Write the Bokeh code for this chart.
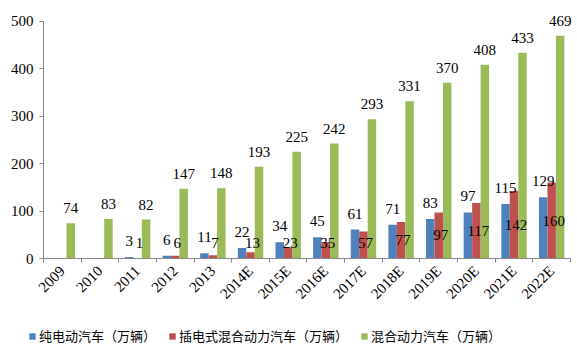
import math
import numpy as np
from bokeh.plotting import figure
from bokeh.models import FixedTicker, Range1d, Legend, LegendItem
from bokeh.core.properties import value
from bokeh.embed import file_html
from bokeh.resources import INLINE

years = ["2009", "2010", "2011", "2012", "2013", "2014E", "2015E", "2016E",
         "2017E", "2018E", "2019E", "2020E", "2021E", "2022E"]
bev = [0, 0, 3, 6, 11, 22, 34, 45, 61, 71, 83, 97, 115, 129]
phev = [0, 0, 1, 6, 7, 13, 23, 35, 57, 77, 97, 117, 142, 160]
hev = [74, 83, 82, 147, 148, 193, 225, 242, 293, 331, 370, 408, 433, 469]
series_names = ["纯电动汽车（万辆）", "插电式混合动力汽车（万辆）", "混合动力汽车（万辆）"]
colors = ["#4F81BD", "#C0504D", "#9BBB59"]

n = len(years)
idx = np.arange(n)
w = 0.225

# frame fills the whole canvas; axes are pinned with fixed_location
p = figure(width=577, height=351, output_backend="svg", toolbar_location=None,
           x_range=Range1d(-1.642, 13.686), y_range=Range1d(-195.8, 543.2),
           min_border_left=0, min_border_right=0, min_border_top=0, min_border_bottom=0)
p.outline_line_color = None
p.xgrid.grid_line_color = None
p.ygrid.grid_line_color = None

rb = p.vbar(x=idx - w, top=bev, width=w, fill_color=colors[0], line_color=None)
rr = p.vbar(x=idx, top=phev, width=w, fill_color=colors[1], line_color=None)
rg = p.vbar(x=idx + w, top=hev, width=w, fill_color=colors[2], line_color=None)

font = value("Liberation Serif")
fs = "15px"
bx = [i - w for i in idx if bev[i] > 0]
by = [bev[i] for i in idx if bev[i] > 0]
bt = [str(bev[i]) for i in idx if bev[i] > 0]
p.text(x=bx, y=by, text=bt, text_font=font, text_font_size=fs, text_align="center",
       text_baseline="middle", y_offset=-16, text_color="black")
rx = [float(i) for i in idx if phev[i] > 0]
ry = [max(phev[i] / 2, 33) for i in idx if phev[i] > 0]
rt = [str(phev[i]) for i in idx if phev[i] > 0]
p.text(x=rx, y=ry, text=rt, text_font=font, text_font_size=fs, text_align="center",
       text_baseline="middle", x_offset=2, text_color="black")
p.text(x=idx + w, y=hev, text=[str(v) for v in hev], text_font=font, text_font_size=fs,
       text_align="center", text_baseline="middle", y_offset=-15, text_color="black")

p.yaxis.fixed_location = -0.5
p.yaxis.ticker = FixedTicker(ticks=[0, 100, 200, 300, 400, 500])
p.yaxis.bounds = (0, 500)
p.yaxis.axis_line_color = "#868686"
p.yaxis.major_tick_line_color = "#868686"
p.yaxis.major_tick_out = 4
p.yaxis.major_tick_in = 0
p.yaxis.minor_tick_line_color = None
p.yaxis.major_label_text_font = "Liberation Serif"
p.yaxis.major_label_text_font_size = fs
p.yaxis.major_label_text_color = "black"
p.yaxis.major_label_standoff = 6

p.xaxis.fixed_location = 0
p.xaxis.bounds = (-0.5, n - 0.5)
p.xaxis.ticker = FixedTicker(ticks=list(range(n)), minor_ticks=[i + 0.5 for i in range(-1, n)])
p.xaxis.major_label_overrides = {i: years[i] for i in range(n)}
p.xaxis.axis_line_color = "#868686"
p.xaxis.major_tick_line_color = None
p.xaxis.minor_tick_line_color = "#868686"
p.xaxis.minor_tick_out = 4
p.xaxis.minor_tick_in = 0
p.xaxis.major_label_orientation = math.pi / 4
p.xaxis.major_label_text_font = "Liberation Serif"
p.xaxis.major_label_text_font_size = fs
p.xaxis.major_label_text_color = "black"
p.xaxis.major_label_standoff = 4

legend = Legend(items=[LegendItem(label=series_names[0], renderers=[rb]),
                       LegendItem(label=series_names[1], renderers=[rr]),
                       LegendItem(label=series_names[2], renderers=[rg])],
                orientation="horizontal", location=(28, 6))
legend.label_text_font = "Noto Sans CJK SC"
legend.label_text_font_size = "13px"
legend.label_text_color = "black"
legend.glyph_width = 8
legend.glyph_height = 8
legend.label_standoff = 3
legend.spacing = 12
legend.border_line_color = None
legend.background_fill_alpha = 0
legend.padding = 2
legend.margin = 0
p.add_layout(legend)

open("out.html", "w").write(file_html(p, INLINE))
